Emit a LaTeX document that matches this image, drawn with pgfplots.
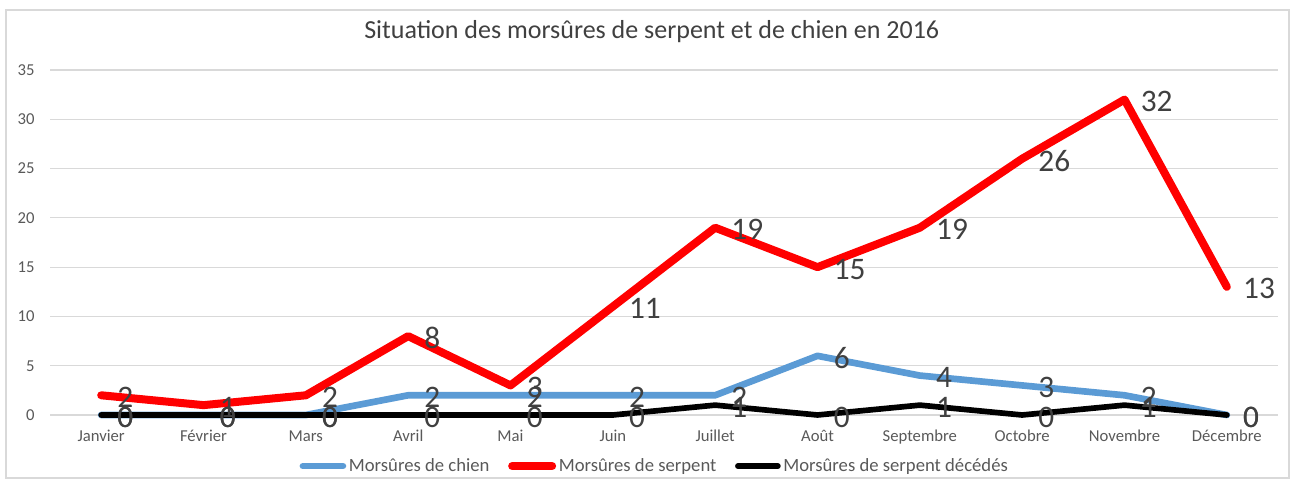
\documentclass[border=0pt]{standalone}
\usepackage{pgfplots}
\pgfplotsset{compat=1.18}
\usepackage{pgfplotstable}
\usepackage{fontspec}
\setmainfont{Carlito}
\definecolor{cblue}{RGB}{91,155,213}
\definecolor{cred}{RGB}{255,0,0}
\definecolor{cgrid}{RGB}{217,217,217}
\definecolor{ctick}{RGB}{89,89,89}
\definecolor{clab}{RGB}{64,64,64}
\pgfplotstableread{
x chien serpent deces
0 0 2 0
1 0 1 0
2 0 2 0
3 2 8 0
4 2 3 0
5 2 11 0
6 2 19 1
7 6 15 0
8 4 19 1
9 3 26 0
10 2 32 1
11 0 13 0
}\data
\begin{document}
\begin{tikzpicture}[x=1pt,y=1pt]
\useasboundingbox (0,0) rectangle (970.5,363);
\draw[cgrid, line width=0.8pt] (4.5,4.5) rectangle (966.75,355.5);
\begin{axis}[
  at={(37.5pt,51.75pt)}, anchor=south west,
  width=921pt, height=258.75pt, scale only axis,
  xmin=-0.5, xmax=11.5, ymin=0, ymax=35,
  xtick={0,...,11},
  xticklabels={Janvier,Février,Mars,Avril,Mai,Juin,Juillet,Août,Septembre,Octobre,Novembre,Décembre},
  ytick={0,5,...,35},
  axis line style={draw=none},
  major tick length=0pt,
  ymajorgrids, grid style={cgrid, line width=0.8pt},
  clip=false,
  /pgf/number format/assume math mode=true,
  tick label style={ctick, font=\fontsize{12.5}{14}\selectfont},
  xticklabel style={yshift=-8pt},
  yticklabel style={xshift=-8pt},
  title={Situation des morsûres de serpent et de chien en 2016},
  title style={at={(axis description cs:0.49,1.087)}, anchor=center, color=clab, font=\fontsize{19.5}{22}\selectfont},
  legend columns=3,
  legend style={at={(axis description cs:0.4927,-0.148)}, anchor=center, draw=none, fill=none,
    font=\fontsize{14}{16}\selectfont, text=ctick, /tikz/every even column/.append style={column sep=12pt}},
  legend image code/.code={\draw[#1, line cap=round] (0pt,0pt) -- (30pt,0pt);},
  every axis plot/.append style={line join=round, line cap=round},
  nodes near coords style={anchor=west, inner sep=0pt, xshift=12pt, yshift=-1.5pt, color=clab, font=\fontsize{23.5}{26}\selectfont},
]
\addplot[cblue, line width=5pt] table[x=x, y=chien] {\data};
\addlegendentry{Morsûres de chien}
\addplot[cred, line width=6pt] table[x=x, y=serpent] {\data};
\addlegendentry{Morsûres de serpent}
\addplot[black, line width=4.25pt] table[x=x, y=deces] {\data};
\addlegendentry{Morsûres de serpent décédés}
\addplot[draw=none, forget plot, nodes near coords] table[x=x, y=chien] {\data};
\addplot[draw=none, forget plot, nodes near coords] table[x=x, y=serpent] {\data};
\addplot[draw=none, forget plot, nodes near coords] table[x=x, y=deces] {\data};
\end{axis}
\end{tikzpicture}
\end{document}
